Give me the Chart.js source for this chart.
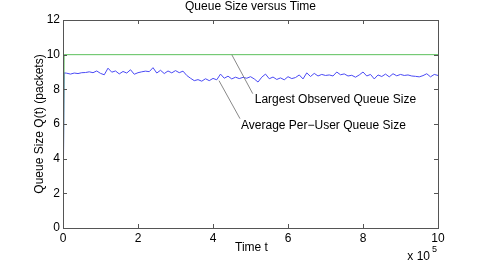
<!DOCTYPE html>
<html>
<head>
<meta charset="utf-8">
<script src="https://cdn.jsdelivr.net/npm/chart.js@4"></script>
<style>
  html, body { margin: 0; padding: 0; background: #fff; }
  canvas { display: block; }
</style>
</head>
<body>
<canvas id="queueChart" width="485" height="263"></canvas>
<script>
// queue size chart (time in units of 10^5)

const xTicks = [0, 2, 4, 6, 8, 10];
const yTicks = [0, 2, 4, 6, 8, 10, 12];

// largest observed queue size
const timeMax = [0, 0.03, 10];
const maxQueue = [0, 10, 10];

// average per-user queue size
const timeAvg = [0, 0.03,
  0.1, 0.2, 0.3, 0.4, 0.5, 0.6, 0.7, 0.8, 0.9, 1.0,
  1.1, 1.2, 1.3, 1.4, 1.5, 1.6, 1.7, 1.8, 1.9, 2.0,
  2.1, 2.2, 2.3, 2.4, 2.5, 2.6, 2.7, 2.8, 2.9, 3.0,
  3.1, 3.2, 3.3, 3.4, 3.5, 3.6, 3.7, 3.8, 3.9, 4.0,
  4.1, 4.2, 4.3, 4.4, 4.5, 4.6, 4.7, 4.8, 4.9, 5.0,
  5.1, 5.2, 5.3, 5.4, 5.5, 5.6, 5.7, 5.8, 5.9, 6.0,
  6.1, 6.2, 6.3, 6.4, 6.5, 6.6, 6.7, 6.8, 6.9, 7.0,
  7.1, 7.2, 7.3, 7.4, 7.5, 7.6, 7.7, 7.8, 7.9, 8.0,
  8.1, 8.2, 8.3, 8.4, 8.5, 8.6, 8.7, 8.8, 8.9, 9.0,
  9.1, 9.2, 9.3, 9.4, 9.5, 9.6, 9.7, 9.8, 9.9, 10.0];
const avgQueue = [0, 8.95,
  8.93, 8.88, 8.94, 8.91, 8.96, 8.97, 9.01, 8.96, 9.06, 8.92,
  8.84, 9.22, 8.99, 9.06, 8.89, 9.03, 8.94, 9.13, 8.87, 8.96,
  9.01, 9.05, 9.02, 9.25, 8.94, 9.1, 8.91, 9.06, 8.95, 9.08,
  8.96, 9.05, 8.8, 8.64, 8.5, 8.56, 8.47, 8.61, 8.5, 8.63,
  8.55, 8.88, 8.64, 8.76, 8.6, 8.7, 8.62, 8.69, 8.64, 8.73,
  8.6, 8.42, 8.7, 8.88, 8.61, 8.71, 8.57, 8.66, 8.55, 8.73,
  8.62, 8.68, 8.83, 8.6, 8.95, 8.74, 8.92, 8.77, 8.86, 8.8,
  8.83, 8.77, 9.0, 8.84, 8.89, 8.77, 8.81, 8.7, 8.83, 9.0,
  8.77, 8.86, 8.6, 8.83, 8.74, 8.88, 8.72, 8.9, 8.78, 8.86,
  8.8, 8.83, 8.77, 8.75, 8.72, 8.79, 8.9, 8.72, 8.86, 8.8];

const FONT = "'Liberation Sans', Arial, sans-serif";

const toPoints = (xs, ys) => xs.map((x, i) => ({ x: x, y: ys[i] }));

// box, inward ticks, titles and annotations (MATLAB style)
const decorPlugin = {
  id: "decor",
  afterDraw(chart) {
    const { ctx, chartArea: a, scales: { x, y } } = chart;
    ctx.save();

    ctx.strokeStyle = "#555";
    ctx.lineWidth = 1;
    ctx.strokeRect(a.left + 0.5, a.top + 0.5, a.right - a.left, a.bottom - a.top);

    const t = 4;
    ctx.beginPath();
    xTicks.forEach(v => {
      const px = Math.round(x.getPixelForValue(v)) + 0.5;
      ctx.moveTo(px, a.bottom); ctx.lineTo(px, a.bottom - t);
      ctx.moveTo(px, a.top); ctx.lineTo(px, a.top + t);
    });
    yTicks.forEach(v => {
      const py = Math.round(y.getPixelForValue(v)) + 0.5;
      ctx.moveTo(a.left, py); ctx.lineTo(a.left + t, py);
      ctx.moveTo(a.right, py); ctx.lineTo(a.right - t, py);
    });
    ctx.stroke();

    // annotation arrows
    ctx.strokeStyle = "#888";
    ctx.beginPath();
    let px = x.getPixelForValue(4.5), py = y.getPixelForValue(10);
    ctx.moveTo(px, py); ctx.lineTo(px + 21, py + 39);
    const lx1 = px + 23, ly1 = py + 45;
    px = x.getPixelForValue(4.16); py = y.getPixelForValue(8.5);
    ctx.moveTo(px, py); ctx.lineTo(px + 21, py + 38);
    const lx2 = px + 22, ly2 = py + 45;
    ctx.stroke();

    ctx.fillStyle = "#000";
    ctx.font = "12px " + FONT;
    ctx.textBaseline = "middle";
    ctx.textAlign = "left";
    ctx.fillText("Largest Observed Queue Size", lx1, ly1);
    ctx.fillText("Average Per\u2212User Queue Size", lx2, ly2);

    // titles
    const cx = (a.left + a.right) / 2;
    ctx.textAlign = "center";
    ctx.fillText("Queue Size versus Time", cx, 7);
    ctx.fillText("Time t", cx + 1, 248);

    ctx.save();
    ctx.translate(40, (a.top + a.bottom) / 2);
    ctx.rotate(-Math.PI / 2);
    ctx.fillText("Queue Size Q(t) (packets)", 0, 0);
    ctx.restore();

    ctx.textAlign = "right";
    ctx.fillText("x 10", a.right - 8, 257);
    ctx.font = "9px " + FONT;
    ctx.textAlign = "left";
    ctx.fillText("5", a.right - 6, 250);

    ctx.restore();
  }
};

const ctx = document.getElementById("queueChart").getContext("2d");

new Chart(ctx, {
  type: "line",
  data: {
    datasets: [
      {
        label: "Largest Observed Queue Size",
        data: toPoints(timeMax, maxQueue),
        borderColor: "#5cc05c",
        borderWidth: 1,
        pointRadius: 0,
        tension: 0
      },
      {
        label: "Average Per-User Queue Size",
        data: toPoints(timeAvg, avgQueue),
        borderColor: "#4a4af5",
        borderWidth: 1,
        pointRadius: 0,
        tension: 0
      }
    ]
  },
  options: {
    responsive: false,
    animation: false,
    layout: { padding: { top: 20, right: 47, left: 0, bottom: 0 } },
    plugins: {
      legend: { display: false },
      tooltip: { enabled: false },
      title: { display: false }
    },
    scales: {
      x: {
        type: "linear",
        min: 0,
        max: 10,
        afterBuildTicks: s => { s.ticks = xTicks.map(v => ({ value: v })); },
        afterFit: s => { s.height = 35; },
        grid: { drawOnChartArea: false, drawTicks: false },
        border: { display: false },
        ticks: { padding: 3, color: "#000", font: { family: FONT, size: 12 }, maxRotation: 0 }
      },
      y: {
        min: 0,
        max: 12,
        afterBuildTicks: s => { s.ticks = yTicks.map(v => ({ value: v })); },
        afterFit: s => { s.width = 63; },
        grid: { drawOnChartArea: false, drawTicks: false },
        border: { display: false },
        ticks: { padding: 3, color: "#000", font: { family: FONT, size: 12 } }
      }
    }
  },
  plugins: [decorPlugin]
});
</script>
</body>
</html>
